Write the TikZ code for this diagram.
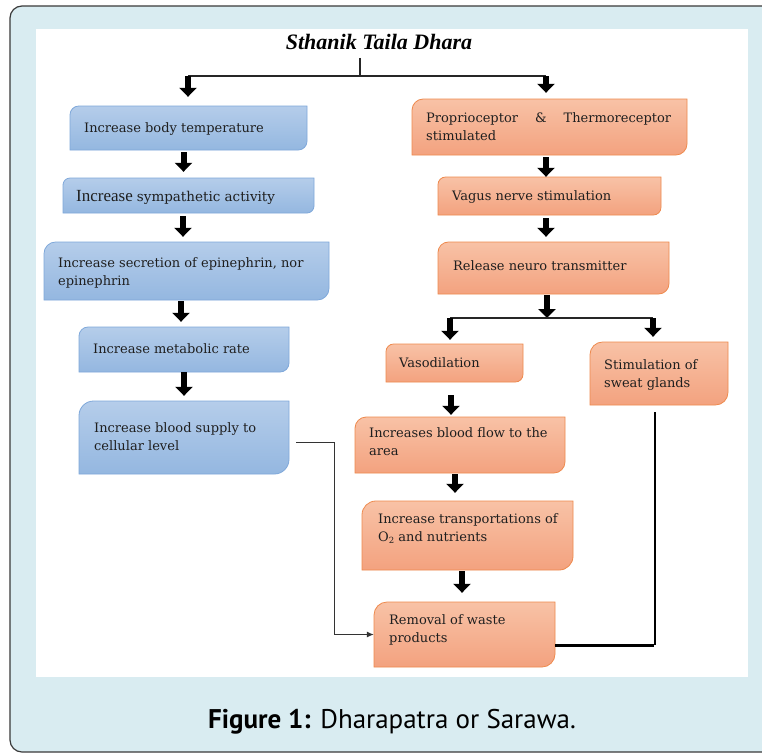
\documentclass[tikz,border=0pt]{standalone}
\usepackage{fontspec}
\setmainfont{Liberation Serif}
\newfontfamily\boxfont{DejaVu Serif}
\newfontfamily\capfont{PT Sans}
\usetikzlibrary{arrows.meta,calc,fit}
\definecolor{bgblue}{HTML}{D9ECF1}
\definecolor{framegray}{HTML}{3A3A3A}
\definecolor{bltop}{HTML}{B5CDEA}
\definecolor{blbot}{HTML}{94B7E0}
\definecolor{blborder}{HTML}{7FA8DA}
\definecolor{ortop}{HTML}{F8C2A6}
\definecolor{orbot}{HTML}{F3A27F}
\definecolor{orborder}{HTML}{EE8A4E}
\newcommand\dbox[6]{%
  \pgfmathsetmacro\rr{0.2*(#6-#4)}%
  \pgfmathsetmacro\rc{0.45*\rr}%
  \shade[#2] (#3,#6) -- (#3,#4+\rr) .. controls (#3,#4+\rc) and (#3+\rc,#4) .. (#3+\rr,#4) -- (#5,#4) -- (#5,#6-\rr) .. controls (#5,#6-\rc) and (#5-\rc,#6) .. (#5-\rr,#6) -- cycle;
  \coordinate (#1-nw) at (#3,#4);
  \coordinate (#1-se) at (#5,#6);
  \node[fit=(#1-nw)(#1-se), inner sep=0pt] (#1) {};
}
\newcommand\btext[4]{\node[boxtext] (#1-txt) at (#2,#3-6) {#4};}
\tikzset{
  bluebox/.style={top color=bltop, bottom color=blbot, draw=blborder, line width=0.8pt},
  orbox/.style={top color=ortop, bottom color=orbot, draw=orborder, line width=0.8pt},
  boxtext/.style={font=\boxfont\fontsize{13}{18}\selectfont, inner sep=0pt, anchor=north west, align=left, text=black!88},
  blk/.style={line width=6pt, -{Triangle[width=17pt,length=9pt]}},
  thinline/.style={line width=1.2pt, draw=black!85},
  conn/.style={line width=1pt, draw=black!80}
}
\begin{document}
\begin{tikzpicture}[x=1pt,y=-1pt]
\useasboundingbox (0,0) rectangle (762,753);
\clip (0,0) rectangle (762,753);
\fill[white] (0,0) rectangle (762,753);
\draw[fill=bgblue, draw=framegray, line width=1.2pt, rounded corners=12pt] (10,6) rectangle (790,752);
\fill[white] (36,29) rectangle (748,677);

% title
\node[font=\fontsize{22}{26}\selectfont\bfseries\itshape, inner sep=0pt] (title) at (379,42) {Sthanik Taila Dhara};
\coordinate (tm) at (360,76);
\coordinate (tl) at (188,76);
\coordinate (tr) at (546,76);

% left boxes
\dbox{lb1}{bluebox}{70}{106}{307}{150}
\dbox{lb2}{bluebox}{63}{178}{314}{213}
\dbox{lb3}{bluebox}{44}{242}{329}{300}
\dbox{lb4}{bluebox}{79}{327}{289}{372}
\dbox{lb5}{bluebox}{79}{401}{289}{474}
\btext{lb1}{84}{128}{Increase body temperature}
\btext{lb2}{76}{196}{{\rmfamily\fontsize{17}{18}\selectfont Increase} {\fontsize{13.5}{18}\selectfont sympathetic activity}}
\btext{lb3}{58}{263}{Increase secretion of epinephrin, nor\\epinephrin}
\btext{lb4}{93}{349}{Increase metabolic rate}
\btext{lb5}{94}{428}{Increase blood supply to\\cellular level}

% right boxes
\dbox{rb1}{orbox}{412}{99}{687}{155}
\dbox{rb2}{orbox}{438}{177}{661}{215}
\dbox{rb3}{orbox}{438}{242}{669}{294}
\dbox{rb4}{orbox}{386}{344}{523}{382}
\dbox{rb5}{orbox}{590}{342}{728}{405}
\dbox{rb6}{orbox}{355}{417}{565}{473}
\dbox{rb7}{orbox}{362}{501}{573}{570}
\dbox{rb8}{orbox}{374}{602}{555}{667}
\btext{rb1}{426}{118}{\makebox[245pt][s]{Proprioceptor \& Thermoreceptor}\\stimulated}
\btext{rb2}{452}{196}{Vagus nerve stimulation}
\btext{rb3}{453}{266}{Release neuro transmitter}
\btext{rb4}{399}{363}{Vasodilation}
\btext{rb5}{604}{365}{Stimulation of\\sweat glands}
\btext{rb6}{369}{433}{Increases blood flow to the\\area}
\btext{rb7}{378}{519}{Increase transportations of\\O{\fontsize{8.5}{8}\selectfont\raisebox{-2pt}{2}} and nutrients}
\btext{rb8}{389}{620}{Removal of waste\\products}

% top connectors
\draw[thinline] ($(tm |- title.south)+(0,8)$) -- (tm);
\draw[thinline] (tl) -- (tr);
\draw[blk, shorten >=9pt] (tl) -- (tl |- lb1.north);
\draw[blk, shorten >=6pt] (tr) -- (tr |- rb1.north);

% left chain
\draw[blk, shorten <=2pt, shorten >=6pt] ([xshift=-5pt]lb1.south) -- ([xshift=-5pt]lb1.south |- lb2.north);
\draw[blk, shorten <=3pt, shorten >=5pt] ([xshift=-5.5pt]lb2.south) -- ([xshift=-5.5pt]lb2.south |- lb3.north);
\draw[blk, shorten <=1pt, shorten >=5pt] ([xshift=-5.5pt]lb3.south) -- ([xshift=-5.5pt]lb3.south |- lb4.north);
\draw[blk, shorten <=0pt, shorten >=5pt] (lb4.south) -- (lb4.south |- lb5.north);

% right chain
\draw[blk, shorten <=2pt, shorten >=0pt] ([xshift=-3.5pt]rb1.south) -- ([xshift=-3.5pt]rb1.south |- rb2.north);
\draw[blk, shorten <=3pt, shorten >=5pt] ([xshift=-3.5pt]rb2.south) -- ([xshift=-3.5pt]rb2.south |- rb3.north);
\coordinate (sm) at (547,318);
\coordinate (sl) at (450,318);
\coordinate (sr) at (653,318);
\draw[blk, shorten <=1pt] (rb3.south -| sm) -- (sm);
\draw[thinline] (sl) -- (sr);
\draw[blk, shorten >=4pt] (sl) -- (sl |- rb4.north);
\draw[blk, shorten >=5pt] (sr) -- (sr |- rb5.north);
\draw[blk, shorten <=13pt, shorten >=2pt] ([xshift=-3.5pt]rb4.south) -- ([xshift=-3.5pt]rb4.south |- rb6.north);
\draw[blk, shorten <=1pt, shorten >=8pt] ([xshift=-5pt]rb6.south) -- ([xshift=-5pt]rb6.south |- rb7.north);
\draw[blk, shorten <=1pt, shorten >=9pt] ([xshift=-5.5pt]rb7.south) -- ([xshift=-5.5pt]rb7.south |- rb8.north);

% side connectors
\draw[conn, -{Latex[length=7pt,width=6pt]}] ($(lb5.east)+(7,4.5)$) -- ++(38,0) |- (rb8.west);
\coordinate (k) at ($(rb8.east)+(99,10.5)$);
\draw[line width=3pt] ($(rb8.east)+(0,10.5)$) -- (k);
\draw[line width=1.3pt, shorten >=7pt] ([xshift=0.8pt]k) -- ([xshift=0.8pt]k |- rb5.south);

% caption
\node[font=\capfont\fontsize{27}{30}\selectfont, inner sep=0pt] (cap) at (392,722) {\textbf{Figure 1:} Dharapatra or Sarawa.};
\end{tikzpicture}
\end{document}
